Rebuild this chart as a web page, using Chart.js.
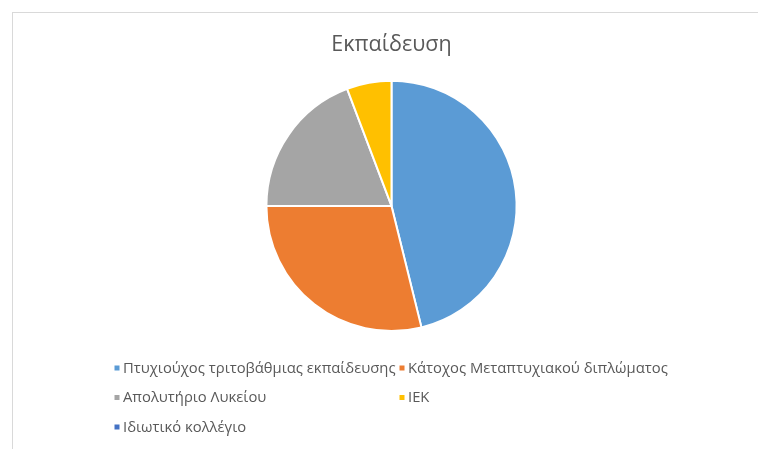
<!DOCTYPE html>
<html>
<head>
<meta charset="utf-8">
<script src="https://cdn.jsdelivr.net/npm/chart.js@4"></script>
<style>
  body { margin: 0; background: #fff; }
  #wrap { position: relative; width: 758px; height: 449px; overflow: hidden; }
  #frame { position: absolute; left: 12px; top: 12px; width: 800px; height: 500px;
           border-left: 1px solid #d9d9d9; border-top: 1px solid #d9d9d9; }
  canvas { position: absolute; left: 0; top: 0; }
</style>
</head>
<body>
<div id="wrap">
  <div id="frame"></div>
  <canvas id="chart" width="758" height="449"></canvas>
</div>
<script>
const categories = [
  "Πτυχιούχος τριτοβάθμιας εκπαίδευσης",
  "Κάτοχος Μεταπτυχιακού διπλώματος",
  "Απολυτήριο Λυκείου",
  "ΙΕΚ",
  "Ιδιωτικό κολλέγιο",
];
const values = [24, 15, 10, 3, 0];
const colors = ["#5B9BD5", "#ED7D31", "#A5A5A5", "#FFC000", "#4472C4"];

// two-column legend like the spreadsheet one
const gridLegend = {
  id: "gridLegend",
  afterDraw(chart) {
    const ctx = chart.ctx;
    const labels = chart.data.labels;
    const bg = chart.data.datasets[0].backgroundColor;
    const colX = [117, 402];
    const rowY = [368, 397.5, 427];
    ctx.save();
    ctx.font = "14.8px 'Open Sans'";
    ctx.textBaseline = "middle";
    labels.forEach((label, i) => {
      const x = colX[i % 2];
      const y = rowY[Math.floor(i / 2)];
      ctx.fillStyle = bg[i];
      ctx.fillRect(x - 2.5, y - 2.5, 5, 5);
      ctx.fillStyle = "#595959";
      ctx.fillText(label, x + 6, y + 0.5);
    });
    ctx.restore();
  },
};

new Chart(document.getElementById("chart"), {
  type: "pie",
  data: {
    labels: categories,
    datasets: [
      {
        data: values,
        backgroundColor: colors,
        borderColor: "#ffffff",
        borderWidth: 2,
      },
    ],
  },
  options: {
    responsive: false,
    animation: false,
    layout: {
      padding: { top: 0, bottom: 117, left: 25, right: 0 },
    },
    plugins: {
      legend: { display: false },
      tooltip: { enabled: false },
      title: {
        display: true,
        text: "Εκπαίδευση",
        color: "#595959",
        font: { family: "'Open Sans'", size: 21.5, weight: "normal" },
        padding: { top: 32, bottom: 22 },
      },
    },
  },
  plugins: [gridLegend],
});
</script>
</body>
</html>
